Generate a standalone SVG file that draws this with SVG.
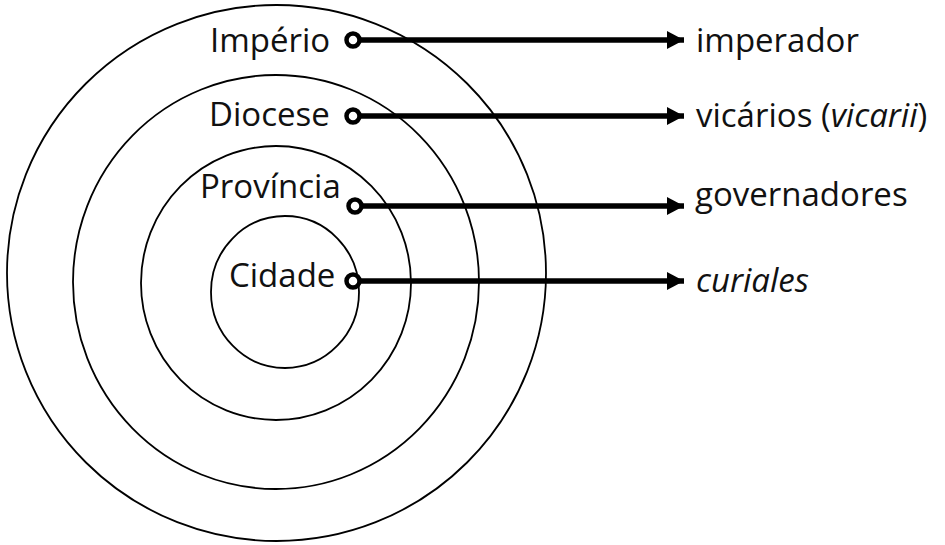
<svg xmlns="http://www.w3.org/2000/svg" width="945" height="545" viewBox="0 0 945 545">
<defs>
<style>
.ring{fill:none;stroke:#000;stroke-width:1.8}
.lbl{font-family:"Open Sans","Noto Sans","DejaVu Sans",sans-serif;font-size:33px;fill:#111}
.it{font-style:italic}
.conn{stroke:#000;stroke-width:5.5;fill:none}
.dot{fill:#fff;stroke:#000;stroke-width:4.5}
</style>
<marker id="ah" markerUnits="userSpaceOnUse" markerWidth="18" markerHeight="18" refX="17" refY="9" orient="auto">
<path d="M0,0 L17,9 L0,18 Z" fill="#000"/>
</marker>
</defs>
<rect width="945" height="545" fill="#fff"/>
<g id="rings">
<ellipse id="ring-imperio" class="ring" cx="276.5" cy="273" rx="269.5" ry="268"/>
<ellipse id="ring-diocese" class="ring" cx="276" cy="282" rx="203" ry="207"/>
<ellipse id="ring-provincia" class="ring" cx="276" cy="283" rx="135" ry="137"/>
<ellipse id="ring-cidade" class="ring" cx="285" cy="292" rx="74" ry="76"/>
</g>
<g id="connectors">
<line class="conn" x1="360" y1="40" x2="684" y2="40" marker-end="url(#ah)"/>
<line class="conn" x1="360" y1="116" x2="684" y2="116" marker-end="url(#ah)"/>
<line class="conn" x1="362" y1="206" x2="684" y2="206" marker-end="url(#ah)"/>
<line class="conn" x1="360" y1="281" x2="684" y2="281" marker-end="url(#ah)"/>
</g>
<g id="node-imperio">
<text class="lbl" x="210" y="52">Império</text>
<circle class="dot" cx="353" cy="40" r="6.5"/>
</g>
<g id="node-diocese">
<text class="lbl" x="209" y="126">Diocese</text>
<circle class="dot" cx="353" cy="116" r="6.5"/>
</g>
<g id="node-provincia">
<text class="lbl" x="200" y="198">Província</text>
<circle class="dot" cx="355" cy="206" r="6.5"/>
</g>
<g id="node-cidade">
<text class="lbl" x="229" y="287">Cidade</text>
<circle class="dot" cx="353" cy="281" r="6.5"/>
</g>
<g id="node-imperador"><text class="lbl" x="696" y="52">imperador</text></g>
<g id="node-vicarios"><text class="lbl" x="696" y="127">vicários (<tspan class="it">vicarii</tspan>)</text></g>
<g id="node-governadores"><text class="lbl" x="695" y="206">governadores</text></g>
<g id="node-curiales"><text class="lbl it" x="696" y="292">curiales</text></g>
</svg>
